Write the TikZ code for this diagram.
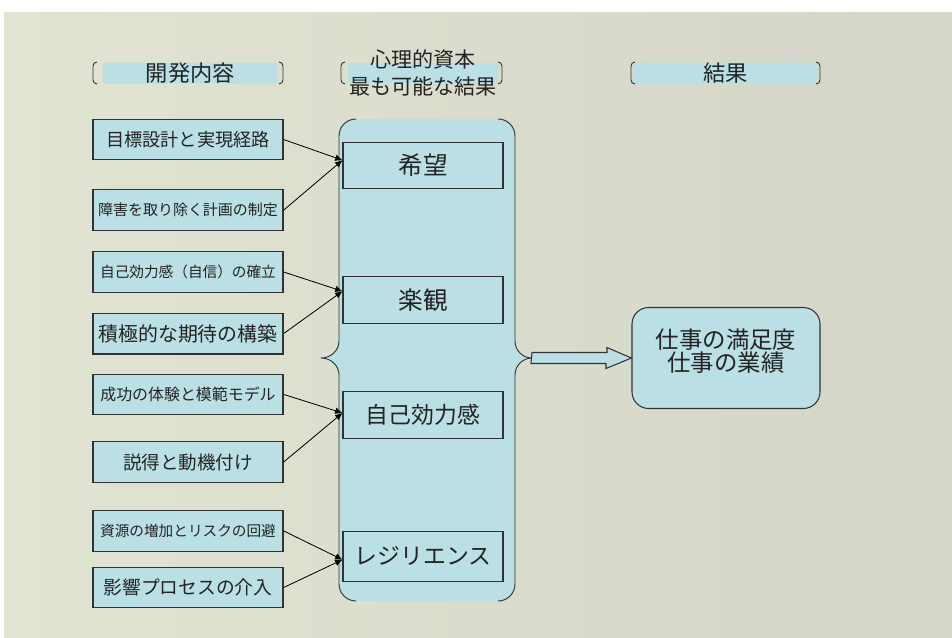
\documentclass[tikz,border=0pt]{standalone}
\usepackage{fontspec}
\setmainfont{Noto Sans CJK JP}
\usepackage{xcolor}
\usetikzlibrary{arrows.meta,positioning}

\definecolor{paleblue}{RGB}{186,223,228}
\definecolor{bgleft}{RGB}{225,228,210}
\definecolor{bgright}{RGB}{211,214,200}
\definecolor{edge}{RGB}{50,50,50}
\definecolor{ink}{RGB}{35,35,35}
\newcommand{\fsz}[1]{\fontsize{#1}{#1}\selectfont}

\begin{document}
\begin{tikzpicture}[
    x=0.03cm, y=-0.03cm,
    every node/.style={text=ink},
    devbox/.style={rectangle, draw=edge, line width=0.9pt, fill=paleblue,
                   minimum width=5.7cm, minimum height=1.22cm, inner sep=0pt},
    capbox/.style={rectangle, draw=edge, line width=0.9pt, fill=paleblue,
                   minimum width=4.8cm, minimum height=1.4cm, inner sep=0pt},
    hbar/.style={rectangle, fill=paleblue, rounded corners=1.5pt,
                 minimum height=0.6cm, inner sep=0pt},
    bracket/.style={draw=edge, line width=0.8pt},
    arr/.style={-{Latex[length=2.2mm,width=2mm]}, line width=0.7pt},
]
% background
\fill[white] (0,0) rectangle (952,637);
\shade[left color=bgleft, right color=bgright] (4,12) rectangle (952,637);
\useasboundingbox (0,0) rectangle (952,637);

% column headers
\node[hbar, minimum width=5.25cm] (hdev) at (190.5,73) {\fsz{19}開発内容};
\node[hbar, minimum width=4.5cm] (hcap) at (423,73) {};
\node[align=center, font=\fontsize{18}{23}\selectfont] (hcaptext) at (hcap) {心理的資本\\最も可能な結果};
\node[hbar, minimum width=5.55cm] (hres) at (725.5,73) {\fsz{19}結果};
\foreach \l/\r in {93/283, 341/502, 631/820} {
  \draw[bracket] (\l+4,62) to[out=180,in=90] (\l,66) -- (\l,80) to[out=-90,in=180] (\l+4,84);
  \draw[bracket] (\r-4,62) to[out=0,in=90] (\r,66) -- (\r,80) to[out=-90,in=0] (\r-4,84);
}

% left column: development
\node[devbox] (goal) at (188,139.5) {\fsz{15.5}目標設計と実現経路};
\node[devbox, below=0.87cm of goal] (plan) {\fsz{12.8}障害を取り除く計画の制定};
\node[devbox, below=0.6cm of plan] (trust) {\fsz{12.5}自己効力感（自信）の確立};
\node[devbox, below=0.6cm of trust] (expect) {\fsz{17}積極的な期待の構築};
\node[devbox, below=0.57cm of expect] (success) {\fsz{13.6}成功の体験と模範モデル};
\node[devbox, below=0.78cm of success] (persuade) {\fsz{15.8}説得と動機付け};
\node[devbox, below=0.81cm of persuade] (resource) {\fsz{12.5}資源の増加とリスクの回避};
\node[devbox, below=0.45cm of resource] (influence) {\fsz{16}影響プロセスの介入};

% center column: capital between two braces
\coordinate (capmid) at (532,358);
\fill[paleblue] (356,119) to[out=180,in=90] (339,136) -- (339,341)
    to[out=-90,in=0] (321,358) to[out=0,in=90] (339,375) -- (339,584)
    to[out=-90,in=180] (356,601) -- (498,601) to[out=0,in=-90] (515,584)
    -- (515,375) to[out=90,in=180] (capmid) to[out=180,in=-90] (515,341)
    -- (515,136) to[out=90,in=0] (498,119) -- cycle;
\draw[bracket] (356,119) to[out=180,in=90] (339,136) -- (339,341)
    to[out=-90,in=0] (321,358) to[out=0,in=90] (339,375) -- (339,584)
    to[out=-90,in=180] (356,601);
\draw[bracket] (498,119) to[out=0,in=90] (515,136) -- (515,341)
    to[out=-90,in=180] (capmid) to[out=180,in=90] (515,375) -- (515,584)
    to[out=-90,in=0] (498,601);

\node[capbox] (hope) at (423,165.5) {\fsz{21}希望};
\node[capbox, below=2.61cm of hope] (optim) {\fsz{21}楽観};
\node[capbox, below=2.01cm of optim] (efficacy) {\fsz{19.5}自己効力感};
\node[capbox, below=2.76cm of efficacy, minimum height=1.5cm] (resil) {\fsz{19.5}レジリエンス};

% right column: result
\node[rectangle, rounded corners=0.5cm, draw=edge, line width=0.9pt, fill=paleblue,
      minimum width=5.64cm, minimum height=3.03cm] (result) at (726,358) {};
\node[align=center, font=\fsz{20}] (resulttext) at (726,351) {仕事の満足度\\仕事の業績};

% arrows into the capital boxes
\draw[arr] (goal.east) -- ([yshift=0.16cm]hope.west);
\draw[arr] (plan.east) -- ([yshift=0.16cm]hope.west);
\draw[arr] (trust.east) -- ([yshift=0.27cm]optim.west);
\draw[arr] (expect.east) -- ([yshift=0.27cm]optim.west);
\draw[arr] (success.east) -- ([yshift=0.06cm]efficacy.west);
\draw[arr] (persuade.east) -- ([yshift=0.06cm]efficacy.west);
\draw[arr] (resource.east) -- ([yshift=-0.1cm]resil.west);
\draw[arr] (influence.east) -- ([yshift=-0.1cm]resil.west);

% block arrow to the result
\draw[edge, line width=0.9pt, fill=paleblue] (capmid) ++(0,-5.5) -- ++(75,0) -- ++(0,-5)
    -- (result.west) -- ++(-25.5,10.5) -- ++(0,-5) -- ++(-75,0) -- cycle;

\end{tikzpicture}
\end{document}
